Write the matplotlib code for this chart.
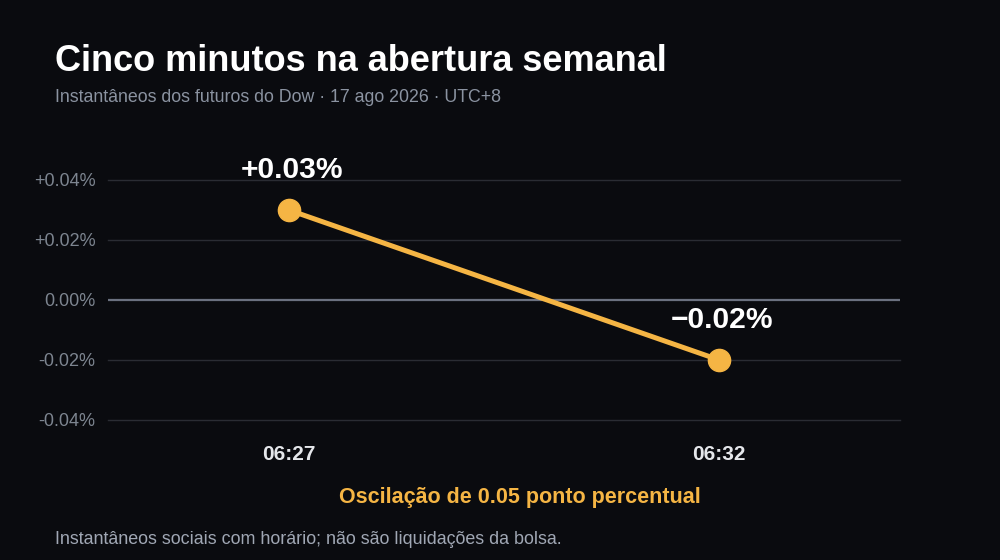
import matplotlib
matplotlib.use('Agg')
import matplotlib.pyplot as plt

plt.rcParams['font.family'] = ['Liberation Sans', 'DejaVu Sans']

# dados
times = ['06:27', '06:32']
changes = [0.03, -0.02]
point_labels = ['+0.03%', '\u22120.02%']
y_ticks = [-0.04, -0.02, 0.0, 0.02, 0.04]
y_tick_labels = ['-0.04%', '-0.02%', '0.00%', '+0.02%', '+0.04%']

BG = '#0a0b0f'
ORANGE = '#f5b544'

fig = plt.figure(figsize=(10, 5.6), dpi=100, facecolor=BG)
ax = fig.add_axes([0.108, 0.25, 0.792, 0.4286], facecolor=BG)

x = list(range(len(times)))
ax.plot(x, changes, color=ORANGE, lw=3.6, marker='o', ms=16,
        solid_capstyle='round', zorder=4, clip_on=False)

for xi, yi, lab in zip(x, changes, point_labels):
    ax.annotate(lab, (xi, yi), xytext=(2, 29), textcoords='offset points',
                ha='center', va='center', color='white', fontsize=21.6,
                fontweight='bold', zorder=5)

for t in y_ticks:
    if t == 0:
        ax.axhline(t, color='#6b7180', lw=1.6, zorder=2)
    else:
        ax.axhline(t, color='#2a2c33', lw=1, zorder=1, clip_on=False)

ax.set_xlim(-0.42, 1.42)
ax.set_ylim(-0.04, 0.04)
ax.set_yticks(y_ticks)
ax.set_yticklabels(y_tick_labels, color='#7d8590', fontsize=13)
ax.set_xticks(x)
ax.set_xticklabels(times, color='#e5e7eb', fontsize=15, fontweight='bold')
ax.tick_params(axis='y', length=0, pad=9)
ax.tick_params(axis='x', length=0, pad=18)
for s in ax.spines.values():
    s.set_visible(False)

fig.text(0.055, 0.89, 'Cinco minutos na abertura semanal', color='white',
         fontsize=26, fontweight='bold', va='center')
fig.text(0.055, 0.825, 'Instantâneos dos futuros do Dow · 17 ago 2026 · UTC+8',
         color='#8b93a1', fontsize=12.8, va='center')
fig.text(0.52, 0.112, 'Oscilação de 0.05 ponto percentual', color=ORANGE,
         fontsize=15.5, fontweight='bold', ha='center', va='center')
fig.text(0.055, 0.037, 'Instantâneos sociais com horário; não são liquidações da bolsa.',
         color='#a0a7b4', fontsize=12.9, va='center')

fig.savefig('out.png', facecolor=BG)
